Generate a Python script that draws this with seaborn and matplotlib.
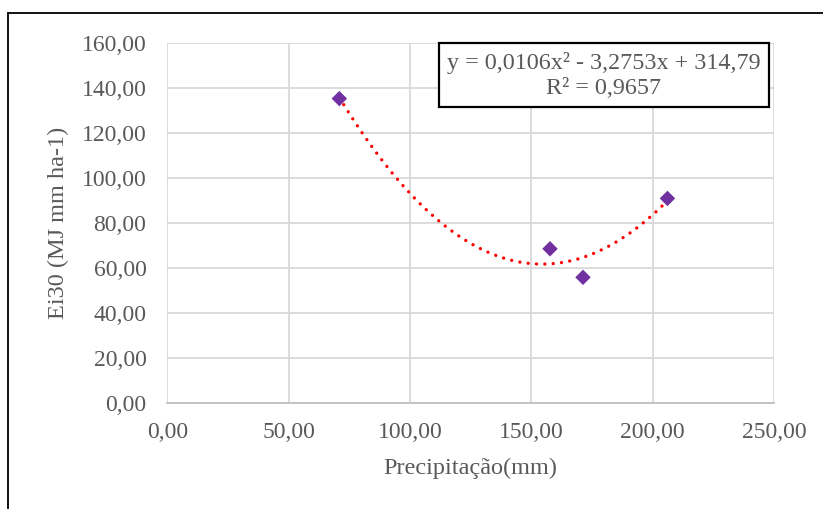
import numpy as np
import pandas as pd
import matplotlib
matplotlib.use("Agg")
import matplotlib.pyplot as plt
from matplotlib.ticker import FuncFormatter
from matplotlib.patches import Rectangle
from matplotlib.lines import Line2D
import seaborn as sns

# Rainfall events: precipitation (mm) and erosivity EI30
precipitacao = [70.9, 157.7, 171.3, 206.1]
ei30 = [135.4, 68.6, 55.9, 91.0]

# Second-order polynomial trendline (a, b, c) and its R²
coef = [0.0106, -3.2753, 314.79]
r2 = 0.9657

x_ticks = [0, 50, 100, 150, 200, 250]
y_ticks = [0, 20, 40, 60, 80, 100, 120, 140, 160]

sns.set_theme(style="white")
plt.rcParams["font.family"] = ["Liberation Serif", "DejaVu Serif"]

grey_text = "#595959"
grid_col = "#d9d9d9"

fig = plt.figure(figsize=(8.23, 5.09), dpi=100)
ax = fig.add_axes([167.3 / 823, 1 - 403 / 509, (774 - 167.3) / 823, (403 - 43.3) / 509])

df = pd.DataFrame({"Precipitação": precipitacao, "Ei30": ei30})

# trendline over the observed range
xs = np.linspace(min(precipitacao), max(precipitacao), 200)
ys = coef[0] * xs ** 2 + coef[1] * xs + coef[2]
ax.plot(xs, ys, color="#ff0000", lw=2.4, linestyle=(0, (0.01, 2.5)),
        dash_capstyle="round", zorder=3)

sns.scatterplot(data=df, x="Precipitação", y="Ei30", ax=ax, marker="D",
                s=62, color="#7030a0", edgecolor="none", zorder=4)

ax.set_xlim(0, 250)
ax.set_ylim(0, 160)
ax.set_xticks(x_ticks)
ax.set_yticks(y_ticks)
fmt = FuncFormatter(lambda v, p: f"{v:.2f}".replace(".", ","))
ax.xaxis.set_major_formatter(fmt)
ax.yaxis.set_major_formatter(fmt)

ax.grid(True, color=grid_col, lw=1.3)
ax.set_axisbelow(True)
for side in ["top", "right", "left"]:
    ax.spines[side].set_visible(False)
ax.spines["bottom"].set_color("#bfbfbf")
ax.spines["bottom"].set_linewidth(1.3)

ax.tick_params(axis="both", length=0, labelsize=17, colors=grey_text)
ax.tick_params(axis="x", pad=13.5)
ax.tick_params(axis="y", pad=15)

ax.set_xlabel("Precipitação(mm)", fontsize=17.5, color=grey_text, labelpad=10.5)
ax.set_ylabel("Ei30 (MJ mm ha-1)", fontsize=17.5, color=grey_text, labelpad=9)

# equation box
fig.patches.append(Rectangle((439 / 823, 1 - 107 / 509), (769 - 439) / 823, (107 - 43) / 509,
                             transform=fig.transFigure, facecolor="white",
                             edgecolor="black", lw=1.6, zorder=5))
fig.text(604 / 823, 1 - 63 / 509,
         f"y = {coef[0]:.4f}x² - {abs(coef[1]):.4f}x + {coef[2]:.2f}".replace(".", ","),
         ha="center", va="center", fontsize=17.4, color=grey_text, zorder=6)
fig.text(604 / 823, 1 - 89 / 509, f"R² = {r2:.4f}".replace(".", ","),
         ha="center", va="center", fontsize=17.4, color=grey_text, zorder=6)

# chart frame (left and top edges)
fig.lines.append(Line2D([8 / 823, 8 / 823], [0, 1 - 13 / 509], transform=fig.transFigure,
                        color="black", lw=1.3))
fig.lines.append(Line2D([8 / 823, 1], [1 - 13 / 509, 1 - 13 / 509], transform=fig.transFigure,
                        color="black", lw=1.3))

fig.savefig("out.png", dpi=100)
